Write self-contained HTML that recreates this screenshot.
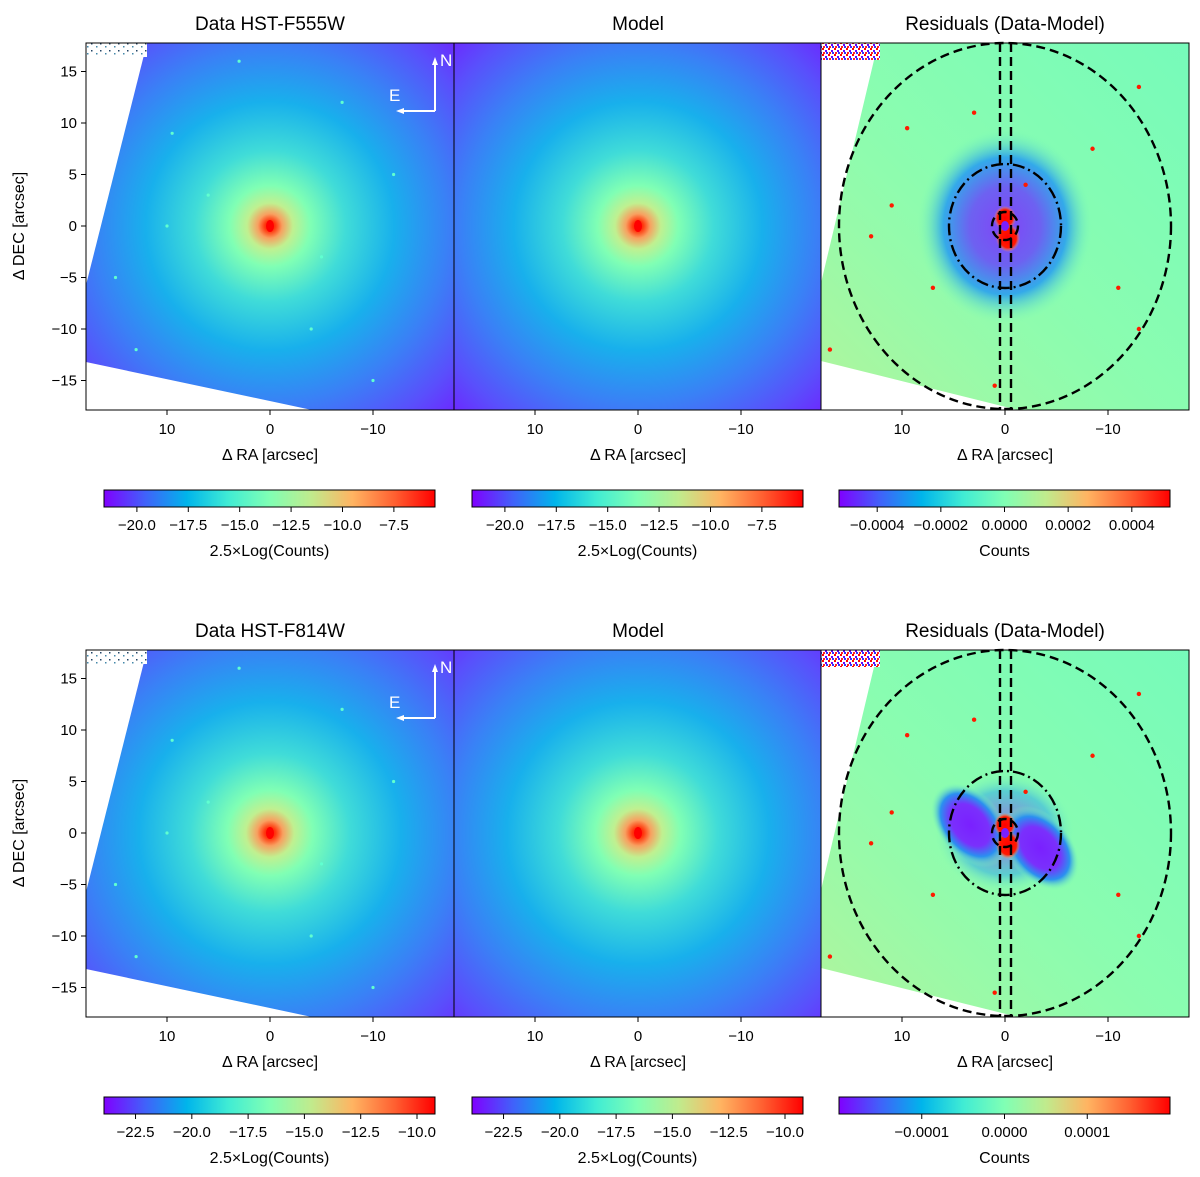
<!DOCTYPE html>
<html><head><meta charset="utf-8"><style>
body{margin:0;background:#fff;}
svg{display:block;font-family:"Liberation Sans","DejaVu Sans",sans-serif;}
</style></head><body>
<svg id="fig" width="1200" height="1177" viewBox="0 0 1200 1177" xmlns="http://www.w3.org/2000/svg">
<defs>
<radialGradient id="gal" gradientUnits="userSpaceOnUse" cx="0" cy="0" r="270" fx="0" fy="0">
<stop offset="0" stop-color="#ff0000"/><stop offset="0.02" stop-color="#ff3a10"/>
<stop offset="0.045" stop-color="#f8a060"/><stop offset="0.085" stop-color="#c0f090"/>
<stop offset="0.15" stop-color="#80ffb4"/><stop offset="0.28" stop-color="#40dcd8"/>
<stop offset="0.46" stop-color="#18b0ec"/><stop offset="0.66" stop-color="#3a80f6"/>
<stop offset="0.85" stop-color="#5a4efc"/><stop offset="1" stop-color="#7020ff"/>
</radialGradient>
<radialGradient id="gal2" gradientUnits="userSpaceOnUse" cx="0" cy="0" r="285" fx="0" fy="0">
<stop offset="0" stop-color="#ff0000"/><stop offset="0.02" stop-color="#ff3a10"/>
<stop offset="0.045" stop-color="#f8a060"/><stop offset="0.085" stop-color="#c0f090"/>
<stop offset="0.15" stop-color="#80ffb4"/><stop offset="0.28" stop-color="#40dcd8"/>
<stop offset="0.46" stop-color="#18b0ec"/><stop offset="0.66" stop-color="#3a80f6"/>
<stop offset="0.85" stop-color="#5a4efc"/><stop offset="1" stop-color="#7020ff"/>
</radialGradient>
<radialGradient id="resring">
<stop offset="0" stop-color="#8030ff"/><stop offset="0.4" stop-color="#6a50f8"/>
<stop offset="0.7" stop-color="#2aa0f0"/><stop offset="1" stop-color="#80ffb4" stop-opacity="0"/>
</radialGradient>
<radialGradient id="blob">
<stop offset="0" stop-color="#7a20ff"/><stop offset="0.5" stop-color="#7a30fc"/>
<stop offset="0.75" stop-color="#2a90f0"/><stop offset="1" stop-color="#80ffb4" stop-opacity="0"/>
</radialGradient>
<radialGradient id="redc">
<stop offset="0" stop-color="#ff0000"/><stop offset="0.7" stop-color="#ff1a00"/><stop offset="1" stop-color="#ffb060" stop-opacity="0"/>
</radialGradient>
<linearGradient id="tint" x1="0" y1="1" x2="1" y2="0">
<stop offset="0" stop-color="#c8f090" stop-opacity="0.7"/><stop offset="0.5" stop-color="#a0f8a8" stop-opacity="0.3"/><stop offset="1" stop-color="#60f0c8" stop-opacity="0.3"/>
</linearGradient>
<linearGradient id="cmap" x1="0" x2="1" y1="0" y2="0">
<stop offset="0" stop-color="#8000ff"/><stop offset="0.125" stop-color="#4062fa"/>
<stop offset="0.25" stop-color="#00b5eb"/><stop offset="0.375" stop-color="#40ecd4"/>
<stop offset="0.5" stop-color="#80ffb4"/><stop offset="0.625" stop-color="#c0eb8d"/>
<stop offset="0.75" stop-color="#ffb462"/><stop offset="0.875" stop-color="#ff6232"/>
<stop offset="1" stop-color="#ff0000"/>
</linearGradient>
<pattern id="noise" width="6" height="6" patternUnits="userSpaceOnUse">
<rect width="6" height="6" fill="#fff"/><rect width="2" height="2" fill="#f00"/><rect x="3" y="2" width="2" height="2" fill="#60f"/><rect x="1" y="4" width="2" height="2" fill="#f22"/><rect x="4" y="4" width="2" height="2" fill="#33f"/>
</pattern>
<pattern id="sparse" width="9" height="7" patternUnits="userSpaceOnUse">
<rect width="9" height="7" fill="#fff"/><rect x="1" y="1" width="1.5" height="1.5" fill="#246"/><rect x="6" y="4" width="1.5" height="1.5" fill="#48a"/>
</pattern>
</defs>
<g id="root"></g>
</svg>
<script>
// ---- data ----
const rowTops = [43, 650];
const panelLefts = [86, 454, 821];
const titles = [["Data HST-F555W","Model","Residuals (Data-Model)"],["Data HST-F814W","Model","Residuals (Data-Model)"]];
const axisTicks = [10, 0, -10];
const axisTickLabels = ["10","0","\u221210"];
const yTicks = [15, 10, 5, 0, -5, -10, -15];
const yTickLabels = ["15","10","5","0","\u22125","\u221210","\u221215"];
const cbTicksTop = [[-20,-17.5,-15,-12.5,-10,-7.5],[-20,-17.5,-15,-12.5,-10,-7.5],[-0.0004,-0.0002,0,0.0002,0.0004]];
const cbLabelsTop = [["\u221220.0","\u221217.5","\u221215.0","\u221212.5","\u221210.0","\u22127.5"],["\u221220.0","\u221217.5","\u221215.0","\u221212.5","\u221210.0","\u22127.5"],["\u22120.0004","\u22120.0002","0.0000","0.0002","0.0004"]];
const cbRangesTop = [[-21.6,-5.5],[-21.6,-5.5],[-0.00052,0.00052]];
const cbTicksBot = [[-22.5,-20,-17.5,-15,-12.5,-10],[-22.5,-20,-17.5,-15,-12.5,-10],[-0.0001,0,0.0001]];
const cbLabelsBot = [["\u221222.5","\u221220.0","\u221217.5","\u221215.0","\u221212.5","\u221210.0"],["\u221222.5","\u221220.0","\u221217.5","\u221215.0","\u221212.5","\u221210.0"],["\u22120.0001","0.0000","0.0001"]];
const cbRangesBot = [[-23.9,-9.2],[-23.9,-9.2],[-0.0002,0.0002]];
const cbTitles = ["2.5\u00d7Log(Counts)","2.5\u00d7Log(Counts)","Counts"];
const starsX = [9.5, 10, -5, -7, 3, -12, 13, -4, 6, -10, 15];
const starsY = [9, 0, -3, 12, 16, 5, -12, -10, 3, -15, -5];
const resStarsX = [9.5, 11, -2, -13, 13, -8.5, 7, 3, -13, 17, -11, 1];
const resStarsY = [9.5, 2, 4, -10, -1, 7.5, -6, 11, 13.5, -12, -6, -15.5];

// ---- helpers ----
const NS = "http://www.w3.org/2000/svg";
const root = document.getElementById('root');
function mk(tag, attrs, parent){ const e=document.createElementNS(NS,tag); for(const k in attrs) e.setAttribute(k,attrs[k]); (parent||root).appendChild(e); return e; }
const W = 368, S = 10.3; // px per arcsec
function xs(px0, v){ return px0 + W/2 - v*S; }
function ys(py0, v){ return py0 + 183 - v*S; }

rowTops.forEach((py0, r) => {
  panelLefts.forEach((px0, c) => {
    const g = mk('g', {});
    
    
    const cx = xs(px0,0), cy = ys(py0,0);
    const clipId = 'clip'+r+c;
    const cp = mk('clipPath', {id: clipId}, g);
    mk('rect', {x:px0, y:py0, width:W, height:367}, cp);
    const img = mk('g', {'clip-path':'url(#'+clipId+')'}, g);
    if (c < 2) {
      const grad = r===0 ? 'gal' : 'gal2';
      const tg = mk('g', {transform:'translate('+cx+','+cy+')'}, img);
      mk('rect', {x:-W/2, y:-183, width:W, height:367, fill:'url(#'+grad+')'}, tg);
      mk('ellipse', {cx:0, cy:0, rx:4, ry:6, fill:'#ff0000'}, tg);
      if (c === 0) {
        mk('polygon', {points: px0+','+py0+' '+(px0+61)+','+py0+' '+px0+','+(py0+242), fill:'#fff'}, img);
        mk('rect', {x:px0, y:py0, width:61, height:14, fill:'url(#sparse)'}, img);
        mk('polygon', {points: px0+','+(py0+319)+' '+(px0+226)+','+(py0+367)+' '+px0+','+(py0+367), fill:'#fff'}, img);
        starsX.forEach((sx,i)=>{
          const d = mk('circle', {cx:xs(px0,sx), cy:ys(py0,starsY[i]), r:1.6, fill:'#60ffd0'}, img);
          
          
        });
      }
    } else {
      mk('rect', {x:px0, y:py0, width:W, height:367, fill:'#80ffb4'}, img);
      mk('rect', {x:px0, y:py0, width:W, height:367, fill:'url(#tint)'}, img);
      if (r === 0) {
        mk('ellipse', {cx:cx, cy:cy, rx:88, ry:98, fill:'url(#resring)', opacity:0.9}, img);
      } else {
        mk('ellipse', {cx:cx, cy:cy, rx:70, ry:60, fill:'url(#resring)', opacity:0.5}, img);
        mk('ellipse', {cx:cx-35, cy:cy-8, rx:48, ry:32, fill:'url(#blob)', transform:'rotate(50 '+(cx-35)+' '+(cy-8)+')'}, img);
        mk('ellipse', {cx:cx+35, cy:cy+15, rx:48, ry:32, fill:'url(#blob)', transform:'rotate(50 '+(cx+35)+' '+(cy+15)+')'}, img);
      }
      mk('ellipse', {cx:cx, cy:cy-8, rx:11, ry:12, fill:'url(#redc)'}, img);
      mk('ellipse', {cx:cx+3, cy:cy+12, rx:12, ry:14, fill:'url(#redc)'}, img);
      mk('ellipse', {cx:cx, cy:cy, rx:4, ry:5, fill:'#7a20ff'}, img);
      resStarsX.forEach((sx,i)=>{
        const d = mk('circle', {cx:xs(px0,sx), cy:ys(py0,resStarsY[i]), r:2.2, fill:'#ff1a00'}, img);
        
        
      });
      mk('polygon', {points: px0+','+py0+' '+(px0+57)+','+(py0+17)+' '+(px0+53)+','+(py0+17)+' '+px0+','+(py0+240), fill:'#fff'}, img);
      mk('rect', {x:px0, y:py0, width:59, height:17, fill:'url(#noise)'}, img);
      mk('polygon', {points: px0+','+(py0+318)+' '+(px0+197)+','+(py0+367)+' '+px0+','+(py0+367), fill:'#fff'}, img);
      // overlays
      const ov = mk('g', {fill:'none', stroke:'#000', 'stroke-width':2.4}, g);
      
      
      mk('ellipse', {cx:cx, cy:cy, rx:166, ry:183, 'stroke-dasharray':'9,5'}, ov);
      mk('ellipse', {cx:cx, cy:cy, rx:56, ry:62, 'stroke-dasharray':'12,4,2,4'}, ov);
      mk('ellipse', {cx:cx, cy:cy, rx:13, ry:14, 'stroke-dasharray':'9,5'}, ov);
      mk('line', {x1:cx-5, x2:cx-5, y1:py0, y2:py0+367, 'stroke-dasharray':'9,5'}, ov);
      mk('line', {x1:cx+6, x2:cx+6, y1:py0, y2:py0+367, 'stroke-dasharray':'9,5'}, ov);
    }
    mk('rect', {x:px0, y:py0, width:W, height:367, fill:'none', stroke:'#000', 'stroke-width':1}, g);
    // title
    const t = mk('text', {x:px0+W/2, y:py0-13, 'text-anchor':'middle', 'font-size':19, fill:'#000'}, g);
    t.textContent = titles[r][c];
    
    
    // x ticks
    axisTicks.forEach((v,i)=>{
      const x = xs(px0, v);
      mk('line', {x1:x, x2:x, y1:py0+367, y2:py0+372, stroke:'#000'}, g);
      const tl = mk('text', {x:x, y:py0+391, 'text-anchor':'middle', 'font-size':15}, g);
      tl.textContent = axisTickLabels[i];
      
      
    });
    const xl = mk('text', {x:px0+W/2, y:py0+417, 'text-anchor':'middle', 'font-size':16}, g);
    xl.textContent = '\u0394 RA [arcsec]';
    
    
    if (c === 0) {
      yTicks.forEach((v,i)=>{
        const y = ys(py0, v);
        mk('line', {x1:px0-5, x2:px0, y1:y, y2:y, stroke:'#000'}, g);
        const tl = mk('text', {x:px0-9, y:y+5, 'text-anchor':'end', 'font-size':15}, g);
        tl.textContent = yTickLabels[i];
        
        
      });
      const yl = mk('text', {x:0, y:0, 'text-anchor':'middle', 'font-size':16, transform:'translate(24,'+(py0+183)+') rotate(-90)'}, g);
      yl.textContent = '\u0394 DEC [arcsec]';
      
      
      // compass
      const cg = mk('g', {stroke:'#fff', 'stroke-width':2, fill:'#fff'}, g);
      
      
      mk('line', {x1:px0+349, y1:py0+68, x2:px0+349, y2:py0+18}, cg);
      mk('line', {x1:px0+349, y1:py0+68, x2:px0+314, y2:py0+68}, cg);
      mk('polygon', {points:(px0+349)+','+(py0+14)+' '+(px0+346)+','+(py0+22)+' '+(px0+352)+','+(py0+22), stroke:'none'}, cg);
      mk('polygon', {points:(px0+310)+','+(py0+68)+' '+(px0+318)+','+(py0+65)+' '+(px0+318)+','+(py0+71), stroke:'none'}, cg);
      const n = mk('text', {x:px0+354, y:py0+23, 'font-size':17, fill:'#fff', stroke:'none'}, cg); n.textContent='N';
      const e = mk('text', {x:px0+303, y:py0+58, 'font-size':17, fill:'#fff', stroke:'none'}, cg); e.textContent='E';
    }
    // colorbar
    const cbY = py0 + 447, cbX = px0 + 18, cbW = 331;
    const ticks = r===0 ? cbTicksTop[c] : cbTicksBot[c];
    const labels = r===0 ? cbLabelsTop[c] : cbLabelsBot[c];
    const rng = r===0 ? cbRangesTop[c] : cbRangesBot[c];
    const cb = mk('g', {}, g);
    
    
    mk('rect', {x:cbX, y:cbY, width:cbW, height:17, fill:'url(#cmap)', stroke:'#000', 'stroke-width':1}, cb);
    ticks.forEach((v,i)=>{
      const x = cbX + (v - rng[0])/(rng[1]-rng[0])*cbW;
      mk('line', {x1:x, x2:x, y1:cbY+17, y2:cbY+22, stroke:'#000'}, cb);
      const tl = mk('text', {x:x, y:cbY+40, 'text-anchor':'middle', 'font-size':15}, cb);
      tl.textContent = labels[i];
      
      
    });
    const ct = mk('text', {x:cbX+cbW/2, y:cbY+66, 'text-anchor':'middle', 'font-size':16}, cb);
    ct.textContent = cbTitles[c];
    
    
  });
});
</script>
</body></html>
